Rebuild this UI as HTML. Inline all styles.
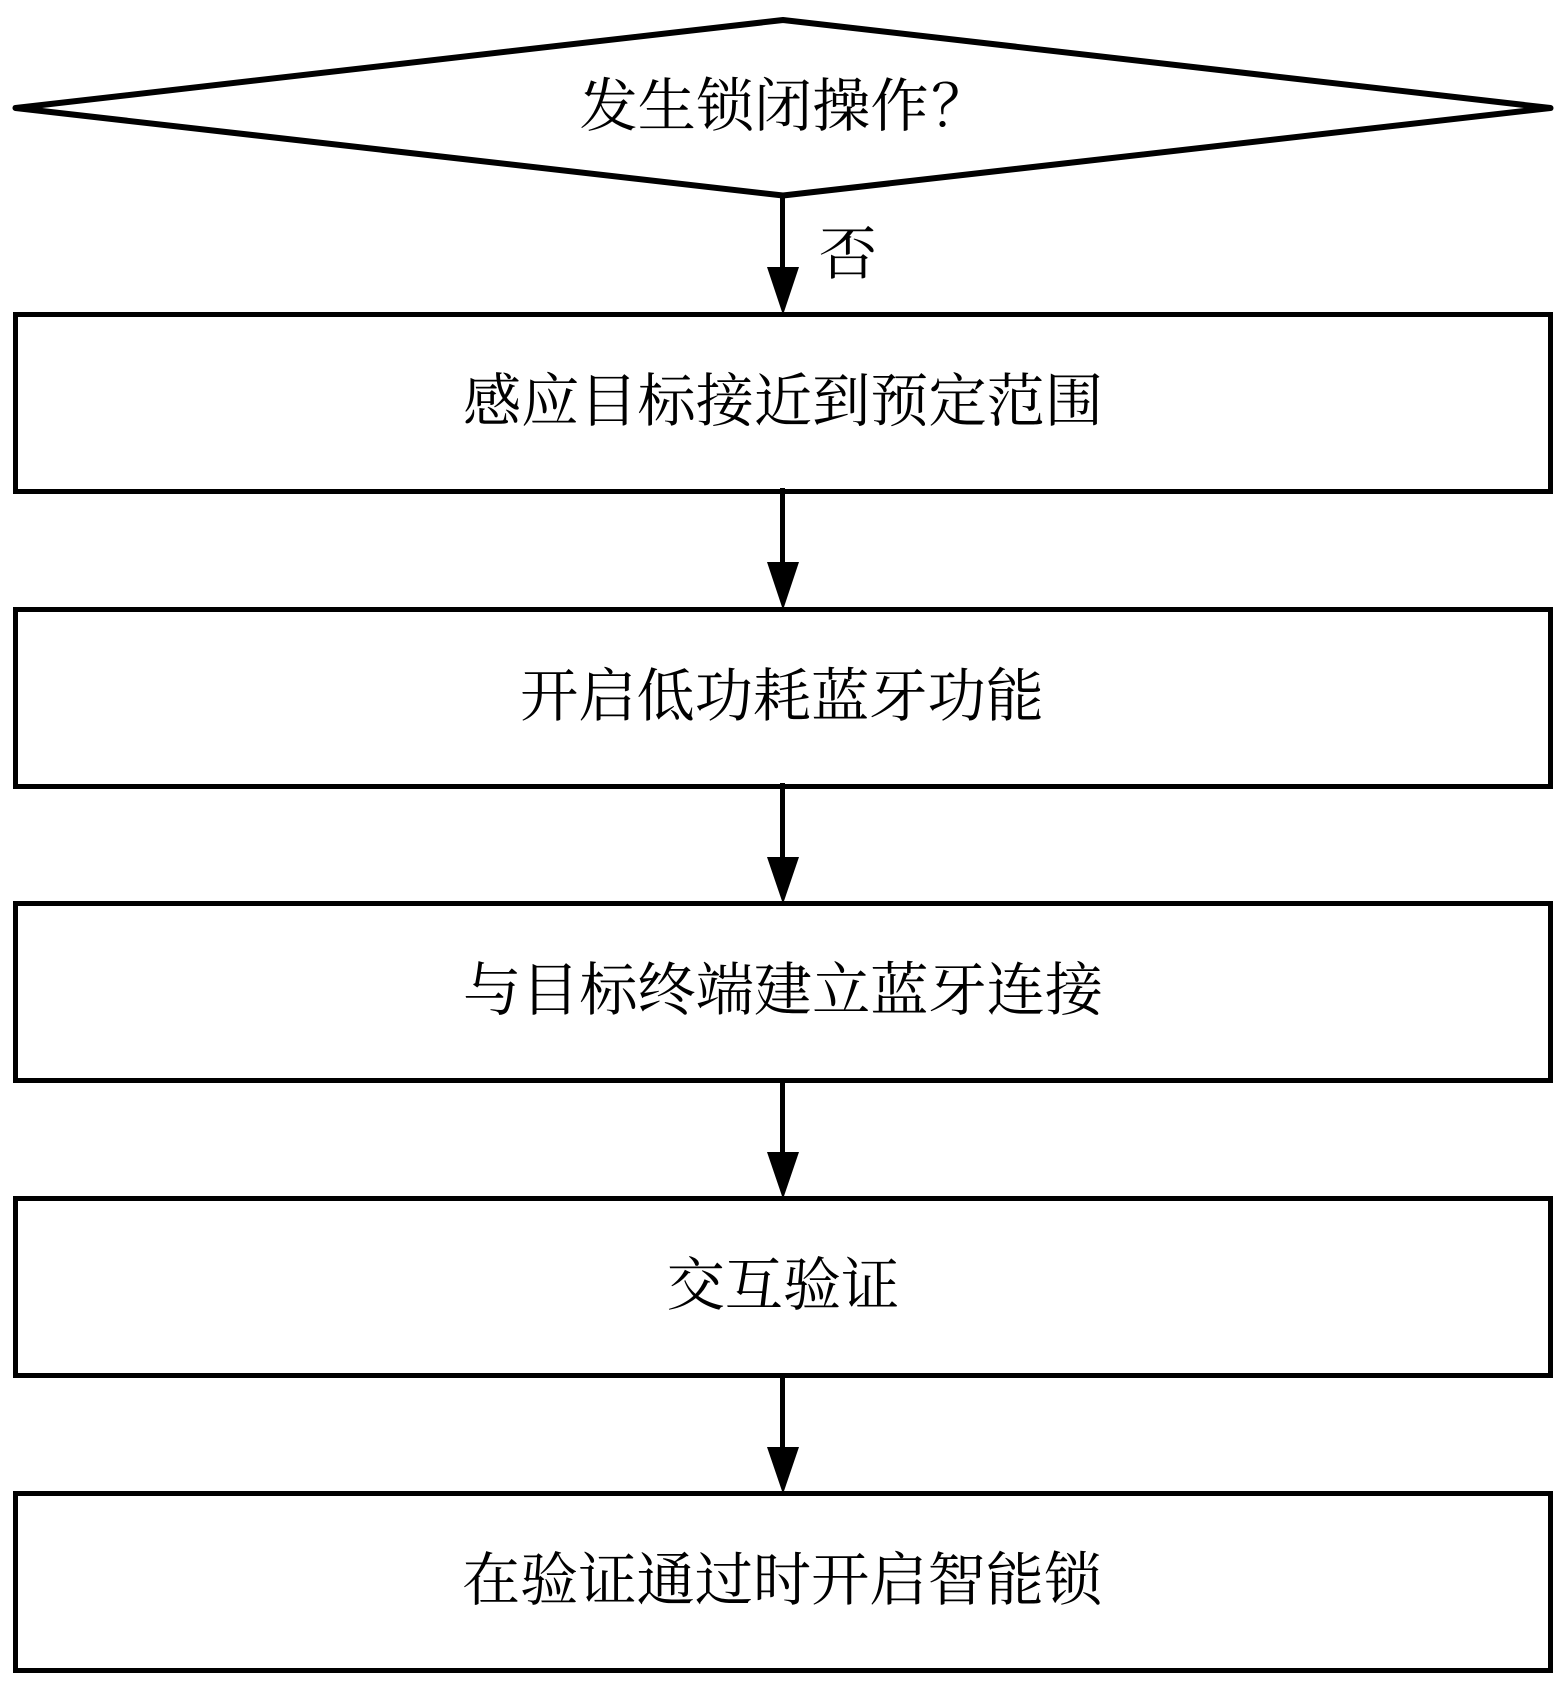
<!DOCTYPE html>
<html>
<head>
<meta charset="utf-8">
<style>
html,body{margin:0;padding:0;background:#fff;width:1567px;height:1688px;overflow:hidden}
svg{display:block}
text{font-family:"Noto Serif CJK SC","Liberation Serif",serif;font-size:58.2px;fill:#000;text-anchor:middle}
</style>
</head>
<body>
<svg width="1567" height="1688" viewBox="0 0 1567 1688" xmlns="http://www.w3.org/2000/svg">
<rect width="1567" height="1688" fill="#fff"/>
<g fill="none" stroke="#000" stroke-width="5">
<polygon points="15.5,108 783,20 1550.5,108 783,195.5" stroke-linejoin="round" stroke-width="6"/>
<rect x="15.5" y="314.5" width="1535" height="177"/>
<rect x="15.5" y="609.5" width="1535" height="177"/>
<rect x="15.5" y="903.5" width="1535" height="177"/>
<rect x="15.5" y="1198.5" width="1535" height="177"/>
<rect x="15.5" y="1493.5" width="1535" height="177"/>
<path d="M782.5 196V270M782.5 488V565M782.5 783V860M782.5 1078V1155M782.5 1373V1450"/>
</g>
<g fill="#000">
<polygon points="767,267 799,267 783,315"/>
<polygon points="767,562 799,562 783,610"/>
<polygon points="767,857 799,857 783,904"/>
<polygon points="767,1152 799,1152 783,1199"/>
<polygon points="767,1447 799,1447 783,1494"/>
</g>
<text x="579.5" y="126" style="text-anchor:start">发生锁闭操作</text>
<text x="931" y="126" style="text-anchor:start">？</text>
<text x="848" y="274">否</text>
<text x="783" y="421">感应目标接近到预定范围</text>
<text x="782" y="716">开启低功耗蓝牙功能</text>
<text x="783" y="1010">与目标终端建立蓝牙连接</text>
<text x="783" y="1305">交互验证</text>
<text x="782" y="1600">在验证通过时开启智能锁</text>
</svg>
</body>
</html>
